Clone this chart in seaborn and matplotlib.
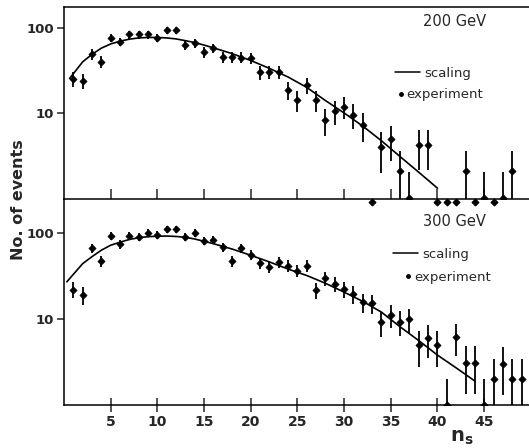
import numpy as np
import seaborn as sns
import matplotlib
matplotlib.use("Agg")
import matplotlib.pyplot as plt
from matplotlib.ticker import FixedLocator, NullLocator, FixedFormatter
from matplotlib.lines import Line2D

# ---- data ----
n_200 = list(range(1, 49))
events_200 = [25, 24, 49, 40, 77, 69, 84, 84, 84, 77, 94, 94, 63, 66, 52, 58,
              46, 46, 45, 44.5, 30, 30.5, 30.5, 18.7, 14.2, 21.3, 14.2, 8.3,
              10.6, 11.9, 9.5, 7.2, 0, 3.95, 4.9, 2.1, 1, 4.2, 4.2, 0, 0, 0,
              2.1, 0, 1, 0, 1, 2.1]
err_200 = [5.0, 4.9, 7.0, 6.3, 8.8, 8.3, 9.2, 9.2, 9.2, 8.8, 9.7, 9.7, 7.9, 8.1,
           7.2, 7.6, 6.8, 6.8, 6.7, 6.7, 5.5, 5.5, 5.5, 4.3, 3.8, 4.6, 3.8, 2.9,
           3.3, 3.4, 3.1, 2.7, 0, 2.0, 2.2, 1.45, 1.0, 2.05, 2.05, 0, 0, 0,
           1.45, 0, 1.0, 0, 1.0, 1.45]
curve_n_200 = [0.6, 1, 2, 3, 4, 5, 6, 7, 8, 9, 10, 11, 12, 13, 14, 15, 16, 18,
               20, 22, 24, 26, 28, 30, 32, 34, 36, 38, 40]
curve_v_200 = [25.5, 29, 40, 49, 58, 65, 70, 74, 76.5, 77.5, 77.5, 76.5, 74.5,
               71, 67.5, 63, 58.5, 50, 41.5, 33.5, 26.5, 20, 14, 10, 7, 4.7,
               3.06, 2.0, 1.3]

n_300 = list(range(1, 50))
events_300 = [22, 19, 66, 47, 93, 74, 92, 90, 100, 95, 110, 110, 90, 100, 81,
              83, 68, 47.6, 66, 55.5, 45, 40.5, 46.4, 41.5, 36.5, 41.5, 21.7,
              29.7, 25.5, 22.3, 19.5, 15.7, 15.2, 9.1, 11.1, 9.3, 10, 5, 6, 5,
              1, 6.2, 3.1, 3.1, 1, 2, 3, 2, 2]
err_300 = [4.7, 4.4, 8.1, 6.9, 9.6, 8.6, 9.6, 9.5, 10, 9.7, 10.5, 10.5, 9.5, 10,
           9.0, 9.1, 8.2, 6.9, 8.1, 7.4, 6.7, 6.4, 6.8, 6.4, 6.0, 6.4, 4.7,
           5.4, 5.0, 4.7, 4.4, 4.0, 3.9, 3.0, 3.3, 3.0, 3.2, 2.2, 2.45, 2.2,
           1.0, 2.5, 1.75, 1.75, 1.0, 1.4, 1.7, 1.4, 1.4]
curve_n_300 = [0.3, 1, 2, 3, 4, 5, 6, 7, 8, 9, 10, 11, 12, 13, 14, 15, 16, 18,
               20, 22, 24, 26, 28, 30, 32, 34, 36, 38, 40, 42, 44]
curve_v_300 = [27, 33, 44, 53, 63, 72, 78, 84, 88, 90.5, 91.5, 92, 91, 89, 85,
               80, 75, 65, 55, 46, 38, 32, 26, 20.5, 16, 12, 8.1, 5.6, 3.8,
               2.7, 1.9]

x_ticks = [5, 10, 15, 20, 25, 30, 35, 40, 45]
y_ticks = [10, 100]
empty_bin_level = 0.9   # where empty bins are drawn (just under the axis)

sns.set_style("ticks")
plt.rcParams['font.family'] = ['DejaVu Sans']

fig = plt.figure(figsize=(5.29, 4.48), dpi=100)
ax_bot = fig.add_axes([64 / 529, 1 - 405 / 448, 465 / 529, 206 / 448])
ax_top = fig.add_axes([64 / 529, 1 - 199 / 448, 465 / 529, 192 / 448])
ax_top.patch.set_visible(False)
ax_bot.patch.set_visible(False)


def draw_panel(ax, n, events, err, cn, cv, ylim, title, title_y, leg_pos):
    n = np.asarray(n, float)
    ev = np.asarray(events, float)
    er = np.asarray(err, float)
    ax.set_yscale("log", nonpositive="clip")
    full = ev > 0
    lower = np.minimum(er[full], ev[full] * 0.999)
    ax.errorbar(n[full], ev[full], yerr=[lower, er[full]], fmt="none",
                ecolor="black", elinewidth=1.3, capsize=0)
    sns.scatterplot(x=n[full], y=ev[full], ax=ax, color="black", marker="D",
                    s=14, edgecolor="black", linewidth=0.4)
    if (~full).any():
        pts = ax.scatter(n[~full], np.full((~full).sum(), empty_bin_level),
                         color="black", marker="D", s=11, zorder=3)
        pts.set_clip_on(False)
    sns.lineplot(x=cn, y=cv, ax=ax, color="black", linewidth=1.2)

    ax.set_xlim(0, 49.8)
    ax.set_ylim(*ylim)
    ax.xaxis.set_major_locator(FixedLocator(x_ticks))
    ax.yaxis.set_major_locator(FixedLocator(y_ticks))
    ax.yaxis.set_major_formatter(FixedFormatter(["10", "100"]))
    ax.yaxis.set_minor_locator(NullLocator())
    ax.xaxis.set_minor_locator(NullLocator())
    ax.tick_params(axis="x", direction="in", length=7, width=1.1,
                   labelsize=10, bottom=True, top=False)
    ax.tick_params(axis="y", direction="out", length=5, width=1.1,
                   labelsize=9.5, pad=2, left=True, right=False)
    for lab in ax.get_xticklabels() + ax.get_yticklabels():
        lab.set_fontweight("bold")
    for sp in ax.spines.values():
        sp.set_linewidth(1.1)
        sp.set_color("black")
    ax.spines["right"].set_visible(False)
    ax.set_xlabel("")
    ax.set_ylabel("")

    ax.text(0.84, title_y, title, transform=ax.transAxes, ha="center",
            va="center", fontsize=10.5)

    (lx, ly), (ex, ey) = leg_pos
    l1 = ax.legend(handles=[Line2D([], [], color="black", lw=1.1)],
                   labels=["scaling"], loc="center left",
                   bbox_to_anchor=(lx, ly), frameon=False, borderpad=0,
                   borderaxespad=0, handlelength=1.9, handletextpad=0.35,
                   fontsize=9.5)
    ax.add_artist(l1)
    ax.legend(handles=[Line2D([], [], color="black", lw=0, marker="o",
                              markersize=2.5)],
              labels=["experiment"], loc="center left",
              bbox_to_anchor=(ex, ey), frameon=False, borderpad=0,
              borderaxespad=0, handlelength=0.4, handletextpad=0.25,
              fontsize=9.5)


draw_panel(ax_top, n_200, events_200, err_200, curve_n_200, curve_v_200,
           (0.97, 177), "200 GeV", 0.922,
           ((0.712, 0.656), (0.718, 0.542)))
draw_panel(ax_bot, n_300, events_300, err_300, curve_n_300, curve_v_300,
           (1.0, 248), "300 GeV", 0.893,
           ((0.7075, 0.733), (0.735, 0.621)))

ax_top.tick_params(axis="x", labelbottom=False)
ax_bot.tick_params(axis="x", direction="inout", length=10, pad=2)
ax_top.spines["top"].set_visible(True)
ax_bot.spines["top"].set_visible(False)

fig.text(19 / 529, 1 - 200 / 448, "No. of events", rotation=90, ha="center",
         va="center", fontsize=11.5, fontweight="bold")
fig.text(462 / 529, 1 - 437 / 448, r"$\mathbf{n_s}$", ha="center",
         va="center", fontsize=14)

fig.savefig("out.png", dpi=100)
